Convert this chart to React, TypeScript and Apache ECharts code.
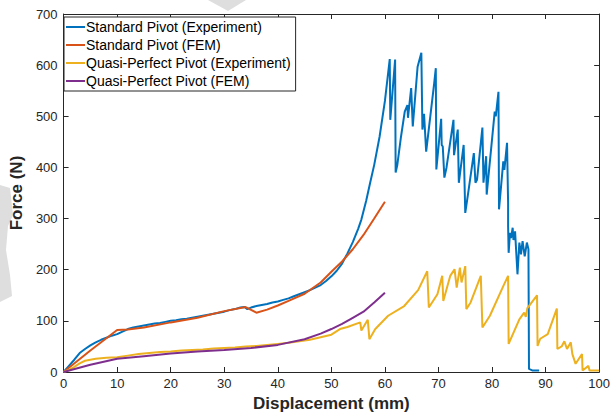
import React, { useEffect, useRef } from "react";
import * as echarts from "echarts";

const seriesNames = [
  "Standard Pivot (Experiment)",
  "Standard Pivot (FEM)",
  "Quasi-Perfect Pivot (Experiment)",
  "Quasi-Perfect Pivot (FEM)",
];
const seriesColors = ["#0072BD", "#D95319", "#EDB120", "#7E2F8E"];

const xTicks = [0, 10, 20, 30, 40, 50, 60, 70, 80, 90, 100];
const yTicks = [0, 100, 200, 300, 400, 500, 600, 700];

const standardExperiment: [number, number][] = [
  [0, 0], [1, 12], [2, 24], [3, 37], [4, 45], [5, 52], [6, 58], [7, 63], [8, 67], [9, 71],
  [10, 74], [11, 79], [12, 84], [13, 87], [14, 89], [15, 91], [16, 93], [17, 95], [18, 96],
  [19, 98], [20, 100], [21, 101], [22, 103], [23, 104], [24, 106], [25, 108], [26, 110],
  [27, 112], [28, 114], [29, 116], [30, 118], [31, 121], [32, 123], [33, 126], [33.8, 127],
  [34.3, 123], [35, 126], [36, 129], [37, 131], [38, 133], [39, 136], [40, 138], [41, 141],
  [42, 144], [43, 148], [44, 152], [45, 156], [46, 160], [47, 165], [48, 170], [49, 178],
  [50, 187], [51, 198], [52, 212], [53, 232], [54, 254], [55, 280], [55.6, 298], [56.5, 335],
  [57.2, 368], [58, 405], [59, 460], [60, 530], [60.9, 612], [61.0, 493], [61.9, 611],
  [62.0, 390], [62.3, 404], [63.0, 460], [63.7, 509], [64.2, 522], [64.3, 497], [64.9, 555],
  [65.2, 480], [66.1, 597], [66.8, 624], [67.0, 474], [67.3, 505], [67.7, 431], [69.2, 565],
  [69.5, 594], [69.6, 396], [70.5, 495], [70.6, 444], [70.8, 441], [71.1, 380], [71.5, 400],
  [72.8, 493], [72.9, 424], [73.6, 474], [73.8, 370], [74.7, 444], [75.0, 311], [75.6, 354],
  [76.6, 428], [76.9, 370], [77.2, 376], [78.2, 478], [78.4, 370], [78.9, 422], [79.0, 347],
  [80.5, 509], [80.7, 500], [81.2, 548], [81.3, 318], [82.1, 412], [82.3, 395], [82.8, 448],
  [83.0, 331], [83.0, 285], [83.1, 233], [83.35, 272], [83.55, 262], [83.85, 282],
  [84.0, 258], [84.3, 275], [84.75, 191], [85.1, 253], [85.4, 230], [85.7, 256], [86.1, 226],
  [86.5, 253], [86.8, 240], [86.9, 6], [87.5, 3], [88.8, 3],
];

const standardFEM: [number, number][] = [
  [0, 0], [5, 42], [10, 82], [12, 83], [15, 87], [20, 97], [25, 106], [30, 119], [34, 127],
  [36, 116], [38, 122], [40, 130], [42, 139], [45, 153], [48, 175], [50, 196], [52, 216],
  [54, 240], [56, 268], [58, 300], [60, 333],
];

const quasiExperiment: [number, number][] = [
  [0, 0], [1, 4], [2, 10], [3, 17], [4, 22], [5, 24], [6, 26], [7, 27], [8, 28], [10, 29],
  [12, 32], [14, 35], [16, 37], [18, 39], [20, 40], [22, 42], [24, 43], [26, 44], [28, 46],
  [30, 47], [32, 48], [34, 50], [36, 51], [38, 53], [40, 55], [42, 57], [44, 60], [46, 63],
  [48, 68], [50, 73], [51.6, 84], [53, 88], [55.4, 97], [55.6, 81], [56.8, 102], [57.1, 64],
  [58.2, 84], [60.6, 110], [63.6, 129], [66.2, 160], [67.9, 197], [68.2, 126], [69.8, 152],
  [70.7, 188], [70.9, 139], [72.2, 188], [73.0, 201], [73.4, 165], [74.0, 204], [74.3, 175],
  [75.0, 207], [75.2, 123], [76.0, 136], [77.9, 188], [78.2, 87], [79.6, 110], [82.1, 168],
  [83.0, 188], [83.1, 55], [85.1, 103], [86.0, 116], [86.3, 108], [86.6, 125], [88.4, 150],
  [88.5, 51], [89.0, 65], [90.4, 74], [92.1, 124], [92.2, 45], [93.0, 50], [93.5, 60],
  [94.0, 45], [94.7, 58], [95.0, 35], [95.6, 16], [96.8, 35], [96.9, 3], [98.0, 12],
  [98.2, 3], [100, 3],
];

const quasiFEM: [number, number][] = [
  [0, 0], [5, 14], [10, 26], [15, 31], [20, 36], [25, 40], [30, 43], [35, 47], [40, 53],
  [45, 64], [48, 75], [50, 84], [52, 94], [54, 106], [56, 118], [58, 136], [60, 155],
];

const allData = [standardExperiment, standardFEM, quasiExperiment, quasiFEM];

const FONT = "'Liberation Sans', Arial, Helvetica, sans-serif";
const AXIS_COLOR = "#262626";

export default function App() {
  const ref = useRef<HTMLDivElement>(null);
  useEffect(() => {
    if (!ref.current) return;
    const chart = echarts.init(ref.current, undefined, { renderer: "svg" });
    const baseAxis = {
      min: xTicks[0],
      max: xTicks[xTicks.length - 1],
      interval: xTicks[1] - xTicks[0],
    };
    chart.setOption({
      animation: false,
      backgroundColor: "#ffffff",
      textStyle: { fontFamily: FONT },
      grid: { left: 61, top: 14, width: 544, height: 359, containLabel: false },
      graphic: [
        {
          type: "polygon",
          z: -10,
          shape: { points: [[208, 0], [246, 0], [228, 11]] },
          style: { fill: "#dedede" },
        },
        {
          type: "polygon",
          z: -10,
          shape: {
            points: [[0, 185], [10, 188], [13, 215], [8, 226], [6, 250], [10, 275], [12, 296], [0, 302]],
          },
          style: { fill: "#dedede" },
        },
      ],
      legend: {
        left: 64,
        top: 17,
        orient: "vertical",
        icon: "rect",
        itemGap: 2,
        itemWidth: 19,
        itemHeight: 2,
        padding: [2, 5, 2, 2],
        borderColor: AXIS_COLOR,
        borderWidth: 1,
        borderRadius: 0,
        backgroundColor: "#ffffff",
        textStyle: {
          fontSize: 14,
          lineHeight: 16,
          color: "#000000",
          fontFamily: FONT,
          padding: [0, 0, 0, -4],
        },
        data: seriesNames,
      },
      xAxis: [
        {
          type: "value",
          ...baseAxis,
          name: "Displacement (mm)",
          nameLocation: "middle",
          nameGap: 23,
          nameTextStyle: { fontSize: 17, fontWeight: "bold", color: AXIS_COLOR, fontFamily: FONT },
          axisLine: { show: true, lineStyle: { color: AXIS_COLOR, width: 1 } },
          axisTick: { show: true, inside: true, length: 5, lineStyle: { color: AXIS_COLOR } },
          axisLabel: { fontSize: 13, color: AXIS_COLOR, margin: 5, fontFamily: FONT },
          splitLine: { show: false },
        },
        {
          type: "value",
          ...baseAxis,
          position: "top",
          axisLine: { show: true, onZero: false, lineStyle: { color: AXIS_COLOR, width: 1 } },
          axisTick: { show: true, inside: true, length: 5, lineStyle: { color: AXIS_COLOR } },
          axisLabel: { show: false },
          splitLine: { show: false },
        },
      ],
      yAxis: [
        {
          type: "value",
          min: yTicks[0],
          max: yTicks[yTicks.length - 1],
          interval: yTicks[1] - yTicks[0],
          name: "Force (N)",
          nameLocation: "middle",
          nameGap: 26,
          nameRotate: 90,
          nameTextStyle: { fontSize: 17, fontWeight: "bold", color: AXIS_COLOR, fontFamily: FONT },
          axisLine: { show: true, lineStyle: { color: AXIS_COLOR, width: 1 } },
          axisTick: { show: true, inside: true, length: 5, lineStyle: { color: AXIS_COLOR } },
          axisLabel: { fontSize: 13, color: AXIS_COLOR, margin: 6, fontFamily: FONT },
          splitLine: { show: false },
        },
        {
          type: "value",
          min: yTicks[0],
          max: yTicks[yTicks.length - 1],
          interval: yTicks[1] - yTicks[0],
          position: "right",
          axisLine: { show: true, onZero: false, lineStyle: { color: AXIS_COLOR, width: 1 } },
          axisTick: { show: true, inside: true, length: 5, lineStyle: { color: AXIS_COLOR } },
          axisLabel: { show: false },
          splitLine: { show: false },
        },
      ],
      series: seriesNames.map((name, i) => ({
        name,
        type: "line",
        data: allData[i],
        xAxisIndex: 0,
        yAxisIndex: 0,
        symbol: "none",
        showSymbol: false,
        smooth: false,
        clip: true,
        lineStyle: { color: seriesColors[i], width: 2 },
        itemStyle: { color: seriesColors[i] },
      })),
    });
    return () => chart.dispose();
  }, []);
  return <div ref={ref} style={{ width: 613, height: 417, position: "absolute", left: 0, top: 0 }} />;
}
